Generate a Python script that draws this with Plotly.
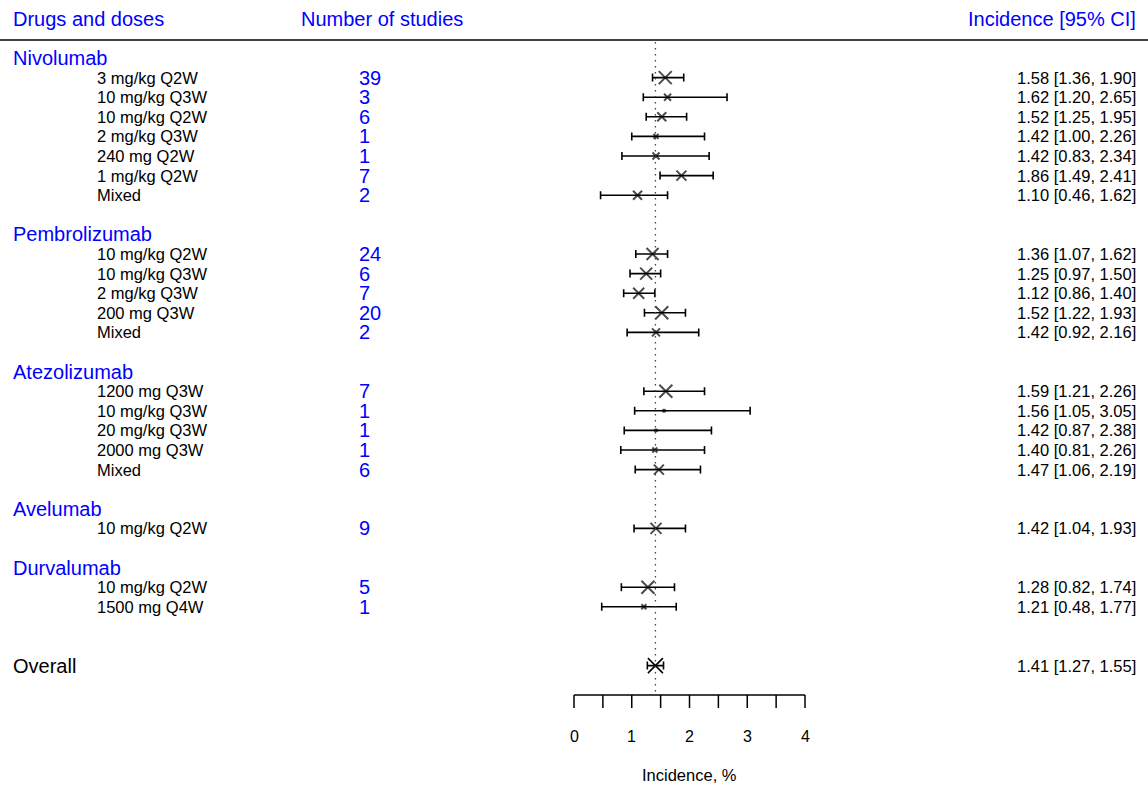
import plotly.graph_objects as go

# ---- data -------------------------------------------------------------
drugs = ["Nivolumab", "Pembrolizumab", "Atezolizumab", "Avelumab", "Durvalumab"]

dose_drug = (["Nivolumab"] * 7 + ["Pembrolizumab"] * 5 + ["Atezolizumab"] * 5
             + ["Avelumab"] * 1 + ["Durvalumab"] * 2)
dose_label = [
    "3 mg/kg Q2W", "10 mg/kg Q3W", "10 mg/kg Q2W", "2 mg/kg Q3W", "240 mg Q2W", "1 mg/kg Q2W", "Mixed",
    "10 mg/kg Q2W", "10 mg/kg Q3W", "2 mg/kg Q3W", "200 mg Q3W", "Mixed",
    "1200 mg Q3W", "10 mg/kg Q3W", "20 mg/kg Q3W", "2000 mg Q3W", "Mixed",
    "10 mg/kg Q2W",
    "10 mg/kg Q2W", "1500 mg Q4W",
]
n_studies = [39, 3, 6, 1, 1, 7, 2,
             24, 6, 7, 20, 2,
             7, 1, 1, 1, 6,
             9,
             5, 1]
incidence = [1.58, 1.62, 1.52, 1.42, 1.42, 1.86, 1.10,
             1.36, 1.25, 1.12, 1.52, 1.42,
             1.59, 1.56, 1.42, 1.40, 1.47,
             1.42,
             1.28, 1.21]
ci_low = [1.36, 1.20, 1.25, 1.00, 0.83, 1.49, 0.46,
          1.07, 0.97, 0.86, 1.22, 0.92,
          1.21, 1.05, 0.87, 0.81, 1.06,
          1.04,
          0.82, 0.48]
ci_high = [1.90, 2.65, 1.95, 2.26, 2.34, 2.41, 1.62,
           1.62, 1.50, 1.40, 1.93, 2.16,
           2.26, 3.05, 2.38, 2.26, 2.19,
           1.93,
           1.74, 1.77]

overall_label = "Overall"
overall_est, overall_low, overall_high = 1.41, 1.27, 1.55

axis_ticks = [0, 0.5, 1, 1.5, 2, 2.5, 3, 3.5, 4]
axis_labels = ["0", "1", "2", "3", "4"]

# ---- styling ----------------------------------------------------------
# box sizes (relative study weight) for each dose row, in px
marker_px = [13, 7, 9, 5, 7, 10, 9,
             12, 12, 11, 13, 8,
             13, 3, 3, 5, 10,
             11,
             13, 5]
overall_px = 15

BLUE = "#0000FF"
FONT = "Liberation Sans, Arial, Helvetica, sans-serif"
BIG, SMALL = 20, 16.5
W, H = 1148, 789
ROW0_PX, ROW_PX = 58, 19.6  # pixel centre of first row, row pitch


def px(xp):
    return xp / W


# ---- row layout -------------------------------------------------------
rows_y, group_y = [], {}
r = 0
for d in drugs:
    group_y[d] = r
    r += 1
    for i, dd in enumerate(dose_drug):
        if dd == d:
            rows_y.append((i, r))
            r += 1
    r += 1
overall_y = r + 1
rows_y = [y for _, y in sorted(rows_y)]

axis_y = overall_y + 1.5

fig = go.Figure()

# study estimates with 95% CI
fig.add_trace(go.Scatter(
    x=incidence, y=rows_y, mode="markers",
    marker=dict(symbol="x-thin", size=marker_px, color="black",
                line=dict(color="black", width=2)),
    error_x=dict(type="data", symmetric=False,
                 array=[h - e for h, e in zip(ci_high, incidence)],
                 arrayminus=[e - l for e, l in zip(incidence, ci_low)],
                 color="black", thickness=1.6, width=4),
    hoverinfo="skip", showlegend=False,
))

# pooled estimate
fig.add_trace(go.Scatter(
    x=[overall_est], y=[overall_y], mode="markers",
    marker=dict(symbol="x-thin", size=overall_px, color="black",
                line=dict(color="black", width=1.6)),
    error_x=dict(type="data", symmetric=False,
                 array=[overall_high - overall_est],
                 arrayminus=[overall_est - overall_low],
                 color="black", thickness=1.6, width=4),
    hoverinfo="skip", showlegend=False,
))

shapes = []
ann = []

# reference line at the pooled estimate
shapes.append(dict(type="line", xref="x", yref="y", x0=overall_est, x1=overall_est,
                   y0=-0.82, y1=axis_y - 0.15,
                   line=dict(color="#444444", width=1.3, dash="1.5px,4.5px")))

# header rule
shapes.append(dict(type="line", xref="paper", yref="y", x0=0, x1=1,
                   y0=-0.92, y1=-0.92, line=dict(color="black", width=1.5)))

# incidence axis
shapes.append(dict(type="line", xref="x", yref="y", x0=axis_ticks[0], x1=axis_ticks[-1],
                   y0=axis_y, y1=axis_y, line=dict(color="black", width=1.5)))
for t in axis_ticks:
    shapes.append(dict(type="line", xref="x", yref="y", x0=t, x1=t,
                       y0=axis_y, y1=axis_y + 0.66, line=dict(color="black", width=1.5)))
for lab in axis_labels:
    ann.append(dict(x=float(lab), y=axis_y + 2.14, xref="x", yref="y", text=lab,
                    showarrow=False, xanchor="center", yanchor="middle",
                    font=dict(size=16, color="black", family=FONT)))
ann.append(dict(x=(axis_ticks[0] + axis_ticks[-1]) / 2, y=axis_y + 4.08, xref="x", yref="y",
                text="Incidence, %", showarrow=False, xanchor="center", yanchor="middle",
                font=dict(size=16.5, color="black", family=FONT)))

# column headers
hdr_y = -2
LEFT = dict(xanchor="left", xshift=-2)
RIGHT = dict(xanchor="right", xshift=2)
ann.append(dict(x=px(13), y=hdr_y, xref="paper", yref="y", text="Drugs and doses",
                showarrow=False, yanchor="middle", **LEFT,
                font=dict(size=BIG, color=BLUE, family=FONT)))
ann.append(dict(x=px(301), y=hdr_y, xref="paper", yref="y", text="Number of studies",
                showarrow=False, yanchor="middle", **LEFT,
                font=dict(size=BIG, color=BLUE, family=FONT)))
ann.append(dict(x=px(1136), y=hdr_y, xref="paper", yref="y", text="Incidence [95% CI]",
                showarrow=False, yanchor="middle", **RIGHT,
                font=dict(size=BIG, color=BLUE, family=FONT)))

# drug group headings
for d in drugs:
    ann.append(dict(x=px(13), y=group_y[d], xref="paper", yref="y", text=d,
                    showarrow=False, yanchor="middle", **LEFT,
                    font=dict(size=BIG, color=BLUE, family=FONT)))

# dose rows
for lab, n, e, lo, hi, y in zip(dose_label, n_studies, incidence, ci_low, ci_high, rows_y):
    ann.append(dict(x=px(97), y=y, xref="paper", yref="y", text=lab,
                    showarrow=False, yanchor="middle", **LEFT,
                    font=dict(size=SMALL, color="black", family=FONT)))
    ann.append(dict(x=px(359), y=y, xref="paper", yref="y", text=str(n),
                    showarrow=False, yanchor="middle", **LEFT,
                    font=dict(size=BIG, color=BLUE, family=FONT)))
    ann.append(dict(x=px(1136), y=y, xref="paper", yref="y",
                    text=f"{e:.2f} [{lo:.2f}, {hi:.2f}]",
                    showarrow=False, yanchor="middle", **RIGHT,
                    font=dict(size=SMALL, color="black", family=FONT)))

# overall row
ann.append(dict(x=px(13), y=overall_y, xref="paper", yref="y", text=overall_label,
                showarrow=False, yanchor="middle", **LEFT,
                font=dict(size=BIG, color="black", family=FONT)))
ann.append(dict(x=px(1136), y=overall_y, xref="paper", yref="y",
                text=f"{overall_est:.2f} [{overall_low:.2f}, {overall_high:.2f}]",
                showarrow=False, yanchor="middle", **RIGHT,
                font=dict(size=SMALL, color="black", family=FONT)))

# axis ranges: 0 -> 574 px, 4 -> 805 px; rows pitched at ROW_PX
x_scale = (805 - 574) / 4.0
x0 = -574 / x_scale
x1 = (W - 574) / x_scale
y_top = -ROW0_PX / ROW_PX
y_bot = (H - ROW0_PX) / ROW_PX

fig.update_layout(
    width=W, height=H,
    margin=dict(l=0, r=0, t=0, b=0),
    paper_bgcolor="white", plot_bgcolor="white",
    xaxis=dict(range=[x0, x1], visible=False, fixedrange=True),
    yaxis=dict(range=[y_bot, y_top], visible=False, fixedrange=True),
    shapes=shapes, annotations=ann,
    showlegend=False,
)

fig.write_html("out.html")
